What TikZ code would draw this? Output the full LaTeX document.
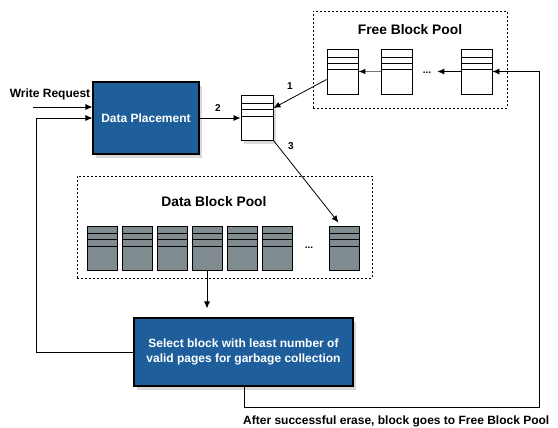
\documentclass[tikz,border=0pt]{standalone}
\usepackage{fontspec}
\setmainfont{Liberation Sans}
\usetikzlibrary{arrows.meta,shadows,calc}
\definecolor{boxblue}{RGB}{30,95,155}
\definecolor{blkgray}{RGB}{128,139,143}
\tikzset{
 arr/.style={-{Latex[length=7pt,width=6pt,color=black]}, line width=0.8pt},
 pool/.style={draw, dash pattern=on 2pt off 2pt, line width=0.7pt, inner sep=0pt},
 shd/.style={drop shadow={shadow xshift=3pt, shadow yshift=-4pt, opacity=0.3}},
 bluebox/.style={draw=black, line width=1.1pt, fill=boxblue, text=white, font=\bfseries\fontsize{12}{15}\selectfont, align=center, inner sep=0pt, shd},
 blk/.style={draw, line width=0.9pt, minimum width=31pt, minimum height=45pt, inner sep=0pt, fill=white},
 dblk/.style={blk, fill=blkgray, minimum width=30pt, minimum height=44pt},
 lbl/.style={font=\bfseries\fontsize{12}{14}\selectfont, inner sep=0pt},
 ttl/.style={font=\bfseries\fontsize{13.8}{16}\selectfont, inner sep=0pt},
 num/.style={font=\bfseries\fontsize{10}{12}\selectfont, inner sep=0pt},
}
\newcommand{\blklines}[4]{%
 \foreach \o in {#2,#3,#4} \draw[line width=0.9pt] ($(#1.north west)+(0,\o)$) -- ($(#1.north east)+(0,\o)$);}
\begin{document}
\begin{tikzpicture}[x=1pt,y=-1pt]
\useasboundingbox (0,0) rectangle (558,428);
% pools
\node[pool, minimum width=194pt, minimum height=97pt] (fpool) at (410,59.5) {};
\node[pool, minimum width=295pt, minimum height=102pt] (dpool) at (224.5,227) {};
\node[ttl] (ftitle) at (410,30) {Free Block Pool};
\node[ttl] (dtitle) at (214,202) {Data Block Pool};
% free blocks
\node[blk] (fb1) at (342.5,71.5) {};
\node[blk] (fb2) at (397,71.5) {};
\node[blk] (fb3) at (476.5,71.5) {};
\foreach \n in {fb1,fb2,fb3} {\blklines{\n}{9}{15}{21}}
\node[num] (fdots) at (427,73) {...};
% data blocks
\foreach \i/\x in {1/102,2/137,3/172,4/207,5/242,6/277,7/344.5} {
  \node[dblk] (d\i) at (\x,248) {};
  \blklines{d\i}{8}{14}{21}
}
\node[num] (ddots) at (309,248) {...};
% small block
\node[blk, minimum width=32pt, shd] (sb) at (257,117.5) {};
\blklines{sb}{9}{15}{22}
% blue boxes
\node[bluebox, minimum width=106pt, minimum height=72pt] (dp) at (146,118) {Data Placement};
\node[bluebox, minimum width=219pt, minimum height=68pt] (sel) at (243.5,352) {Select block with least number of\\valid pages for garbage collection};
% labels
\node[lbl] (wrt) at (50,94) {Write Request};
\node[num] (n1) at (290,86) {1};
\node[num] (n2) at (218,108) {2};
\node[num] (n3) at (291,146) {3};
\node[lbl, anchor=west] (btxt) at (243,421) {After successful erase, block goes to Free Block Pool};
% connectors
\coordinate (wr) at (33,107);
\draw[arr] (wr) -- (wr -| dp.west);
\draw[arr] (sel.west) -- ++(-97,0) |- (dp.west);
\draw[arr] (dp.east) -- (dp.east -| sb.west);
\draw[arr] ($(fb1.west)+(0,8)$) -- ($(sb.east)+(0,-9.5)$);
\draw[arr] (sb.south east) -- ($(d7.north)+(-6,-3)$);
\draw[arr, line width=1.4pt, black!55] (fb2.west) -- (fb1.east);
\draw[arr] (fb3.west) -- ($(fdots.east)+(6,-1.5)$);
\draw[arr, shorten >=9pt] (d4.south) -- (d4.south |- sel.north);
\coordinate (br) at (539,407);
\draw[arr] ($(sel.south)+(0.5,0)$) |- (br) |- (fb3.east);
\end{tikzpicture}
\end{document}
